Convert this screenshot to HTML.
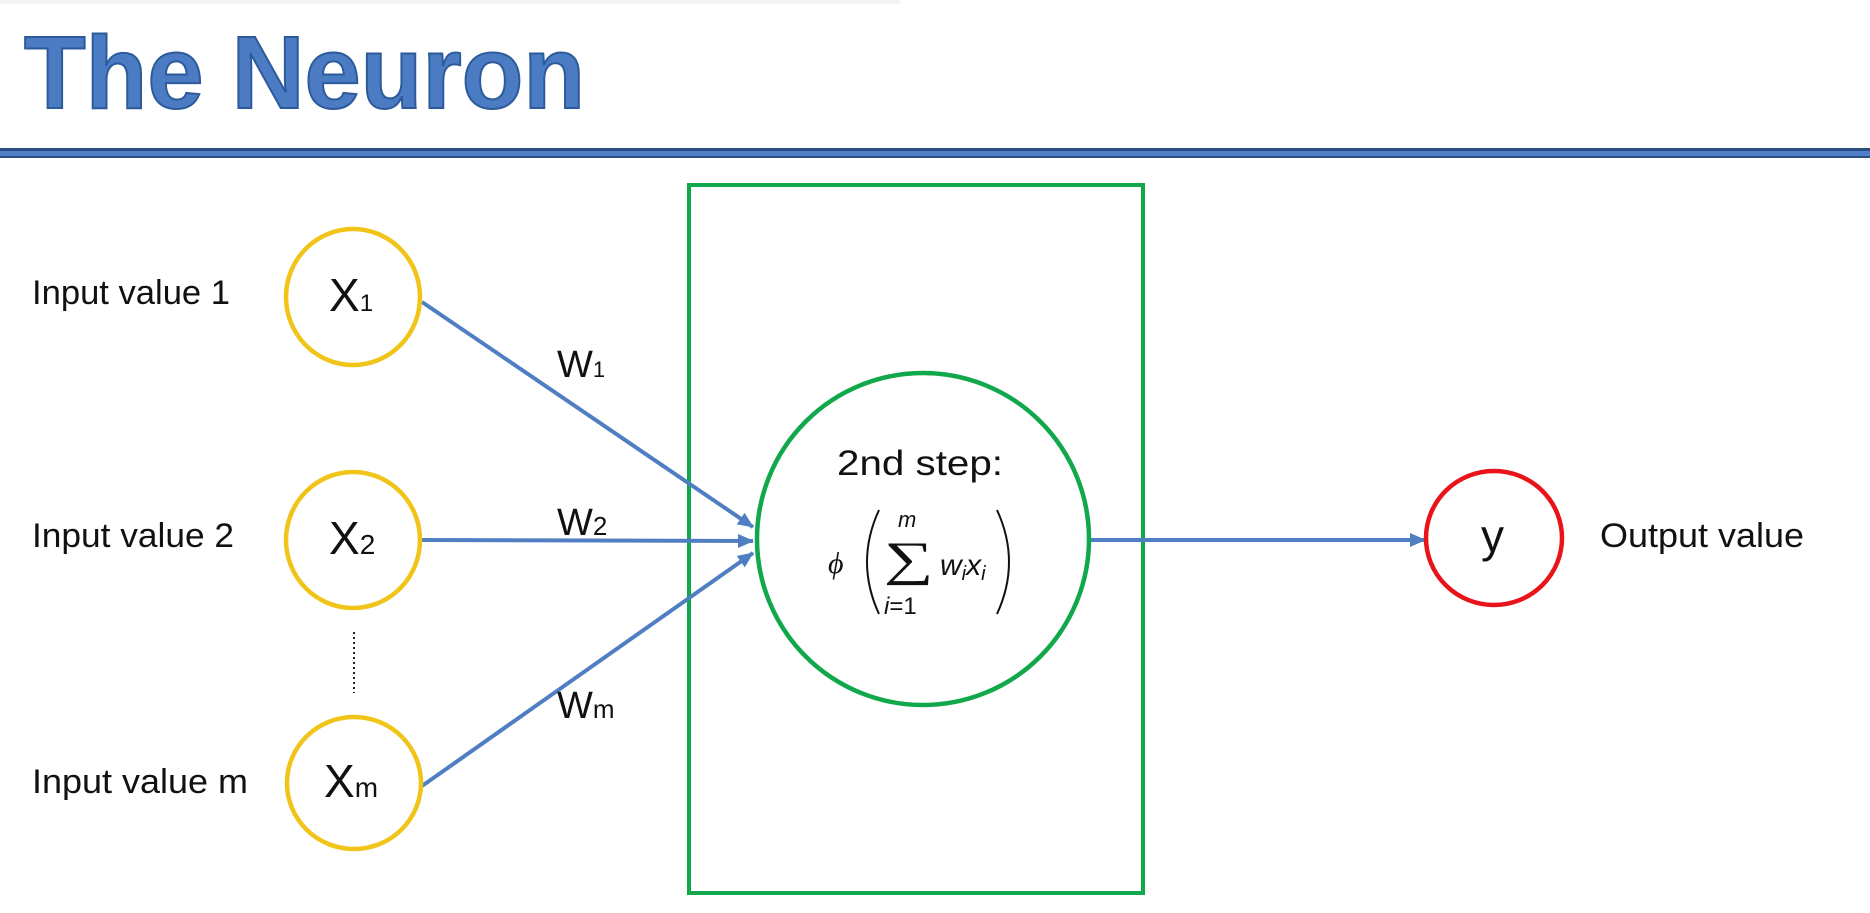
<!DOCTYPE html>
<html><head><meta charset="utf-8"><style>
html,body{margin:0;padding:0;background:#fff;}
svg{display:block;}
text{font-family:"Liberation Sans",sans-serif;fill:#111;}
</style></head><body>
<svg width="1870" height="913" viewBox="0 0 1870 913" xmlns="http://www.w3.org/2000/svg">
<defs>
<marker id="ah" markerWidth="16" markerHeight="14" refX="15" refY="7" orient="auto" markerUnits="userSpaceOnUse">
<path d="M0,0 L16,7 L0,14 z" fill="#4f7fc2"/>
</marker>
</defs>
<rect width="1870" height="913" fill="#fff"/>
<rect x="0" y="0" width="900" height="4" fill="#f4f4f4"/>
<text x="24" y="108" font-size="103" font-weight="bold" textLength="561" lengthAdjust="spacingAndGlyphs" style="fill:#4a7bc3;stroke:#2c5a9a;stroke-width:2">The Neuron</text>
<rect x="0" y="148" width="1870" height="10" fill="#2b4e80"/>
<rect x="0" y="151" width="1870" height="5" fill="#4f7fc6"/>
<rect x="689" y="185" width="454" height="708" fill="none" stroke="#10a84a" stroke-width="4"/>
<g stroke="#4f7fc2" stroke-width="4" fill="none">
<line x1="422" y1="302" x2="753" y2="527" marker-end="url(#ah)"/>
<line x1="422" y1="540" x2="753" y2="541" marker-end="url(#ah)"/>
<line x1="422" y1="786" x2="753" y2="553" marker-end="url(#ah)"/>
<line x1="1089" y1="540" x2="1425" y2="540" marker-end="url(#ah)"/>
</g>
<line x1="354" y1="632" x2="354" y2="693" stroke="#222" stroke-width="2" stroke-dasharray="2,3"/>
<g stroke-width="4.5" fill="#fff">
<ellipse cx="353" cy="297" rx="67" ry="68" stroke="#f0c419"/>
<ellipse cx="353" cy="540" rx="67" ry="68" stroke="#f0c419"/>
<ellipse cx="354" cy="783" rx="67" ry="66" stroke="#f0c419"/>
<ellipse cx="923" cy="539" rx="166" ry="166" stroke="#10a84a"/>
<ellipse cx="1494" cy="538" rx="68" ry="67" stroke="#e8141a"/>
</g>
<g font-size="34">
<text x="32" y="304" textLength="198" lengthAdjust="spacingAndGlyphs">Input value 1</text>
<text x="32" y="547" textLength="202" lengthAdjust="spacingAndGlyphs">Input value 2</text>
<text x="32" y="793" textLength="216" lengthAdjust="spacingAndGlyphs">Input value m</text>
<text x="1600" y="547" textLength="204" lengthAdjust="spacingAndGlyphs">Output value</text>
</g>
<g font-size="46">
<text x="329" y="311">X<tspan font-size="24">1</tspan></text>
<text x="329" y="554">X<tspan font-size="28">2</tspan></text>
<text x="324" y="797">X<tspan font-size="28">m</tspan></text>
<text x="1481" y="552">y</text>
</g>
<g font-size="38">
<text x="557" y="377">W<tspan font-size="22">1</tspan></text>
<text x="557" y="535">W<tspan font-size="26">2</tspan></text>
<text x="557" y="718">W<tspan font-size="26">m</tspan></text>
</g>
<text x="837" y="475" font-size="35" textLength="166" lengthAdjust="spacingAndGlyphs">2nd step:</text>
<text x="828" y="573" font-size="30" font-style="italic" style="font-family:'Liberation Serif',serif">ϕ</text>
<path d="M879,510 Q855,562 879,614" stroke="#111" stroke-width="2" fill="none"/>
<path d="M997,510 Q1021,562 997,614" stroke="#111" stroke-width="2" fill="none"/>
<text transform="translate(884,575) scale(1.45,1)" x="0" y="0" font-size="48" style="font-family:'Liberation Serif',serif">∑</text>
<text x="898" y="527" font-size="22" font-style="italic" style="font-family:'Liberation Sans',sans-serif">m</text>
<text x="884" y="614" font-size="24" style="font-family:'Liberation Sans',sans-serif"><tspan font-style="italic">i</tspan>=1</text>
<text x="940" y="575" font-size="30" font-style="italic" style="font-family:'Liberation Sans',sans-serif">w<tspan font-size="20" dy="5">i</tspan><tspan dy="-5">x</tspan><tspan font-size="20" dy="5">i</tspan></text>
</svg>
</body></html>
